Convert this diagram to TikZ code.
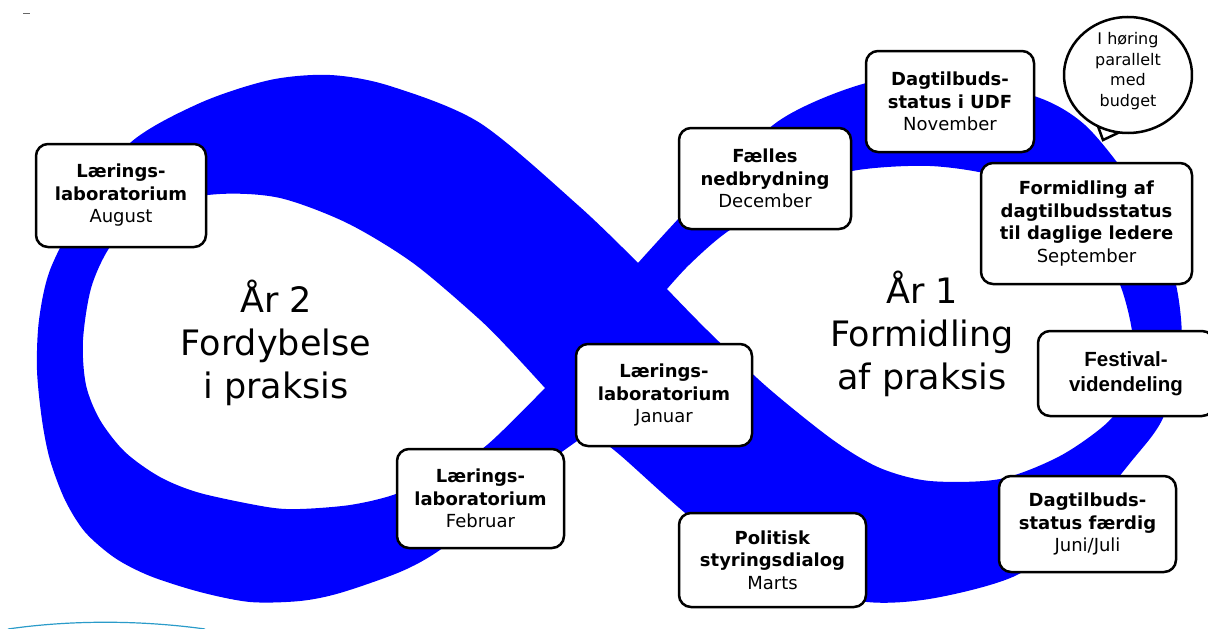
\documentclass[tikz,border=0pt]{standalone}
\usepackage{fontspec}
\setmainfont{DejaVu Sans}
\newfontfamily\arialfont{Liberation Sans}
\usepackage{xcolor}

\tikzset{
  band/.style={fill=blue, even odd rule},
  stage/.style={draw, line width=2.5pt, rounded corners=12pt, fill=white,
    align=center, inner sep=0pt, font=\fontsize{18}{22.5}\selectfont},
  bigtext/.style={align=center, font=\fontsize{35}{43}\selectfont},
  bubble/.style={draw, line width=2.5pt, fill=white},
  bubtext/.style={align=center, inner sep=0pt, font=\fontsize{16}{20.5}\selectfont}
}

\begin{document}
\begin{tikzpicture}[x=1pt, y=-1pt]
  \useasboundingbox (0,0) rectangle (1208,629);

  % The infinity band: outer outline with two holes
  \fill[band]
    plot[smooth] coordinates {(638,263) (700,196) (780,120) (870,82) (950,78)
      (1037,97) (1085,125) (1130,180) (1162,235) (1178,295) (1181,350)
      (1163,418) (1130,463) (1075,528) (1017,575) (935,598) (867,602)
      (790,583) (700,525) (620,455) (590,432)}
    -- plot[smooth] coordinates {(590,432) (540,468) (480,518) (437,552)
      (400,572) (340,593) (300,601) (250,602) (200,592) (150,576) (115,558)
      (85,532) (65,500) (50,460) (42,420) (37,370) (39,320) (50,270)
      (80,212) (130,143) (200,103) (270,80) (330,75) (390,86) (480,123)
      (580,207) (638,263)}
    -- cycle
    % right hole
    plot[smooth] coordinates {(667,289) (690,264) (727,232) (790,193)
      (852,171) (930,166) (1000,177) (1060,205) (1100,245) (1122,290)
      (1133,340) (1128,390) (1108,422) (1060,456) (1000,479) (930,481)
      (880,468) (833,440) (767,387) (707,330) (667,289)}
    -- cycle
    % left hole
    plot[smooth] coordinates {(545,388) (510,350) (478,318) (413,263)
      (347,223) (280,198) (220,194) (160,205) (115,240) (92,285) (83,340)
      (86,385) (100,420) (125,452) (160,477) (200,493) (267,507) (300,509)
      (350,505) (393,495) (440,475) (487,445) (545,388)}
    -- cycle;

  % Leftovers from the slide
  \draw[black!60, line width=1pt] (23,13) -- (30,13);
  \draw[cyan!60!teal, line width=1.2pt] (8,629) .. controls (70,620) and (140,620) .. (205,629);

  % Year texts
  \node[bigtext] (aar2) at (276,343) {År 2\\Fordybelse\\i praksis};
  \node[bigtext] (aar1) at (922,334) {År 1\\Formidling\\af praksis};

  % Stages of the year wheel
  \node[stage, minimum width=170pt, minimum height=103pt] (aug) at (121,195.5)
    {\textbf{Lærings-}\\\textbf{laboratorium}\\August};
  \node[stage, minimum width=172pt, minimum height=101pt] (dec) at (765,178.5)
    {\textbf{Fælles}\\\textbf{nedbrydning}\\December};
  \node[stage, minimum width=168pt, minimum height=101pt] (nov) at (950,101.5)
    {\textbf{Dagtilbuds-}\\\textbf{status i UDF}\\November};
  \node[stage, minimum width=211pt, minimum height=121pt] (sep) at (1086.5,223.5)
    {\textbf{Formidling af}\\\textbf{dagtilbudsstatus}\\\textbf{til daglige ledere}\\September};
  \node[stage, minimum width=176pt, minimum height=85pt,
    font=\arialfont\fontsize{20.5}{25}\selectfont\bfseries] (fest) at (1126,373.5)
    {Festival-\\videndeling};
  \node[stage, minimum width=177pt, minimum height=96pt] (jun) at (1087.5,524)
    {\textbf{Dagtilbuds-}\\\textbf{status færdig}\\Juni/Juli};
  \node[stage, minimum width=187pt, minimum height=94pt] (mar) at (772.5,560)
    {\textbf{Politisk}\\\textbf{styringsdialog}\\Marts};
  \node[stage, minimum width=176pt, minimum height=102pt] (jan) at (664,395)
    {\textbf{Lærings-}\\\textbf{laboratorium}\\Januar};
  \node[stage, minimum width=167pt, minimum height=99pt] (feb) at (480.5,498.5)
    {\textbf{Lærings-}\\\textbf{laboratorium}\\Februar};

  % Speech bubble
  \coordinate (bubc) at (1128,75);
  \draw[bubble] (bubc) ++(98:64 and 58)
    arc[start angle=98, end angle=478, x radius=64, y radius=58]
    -- (1103,140) -- cycle;
  \node[bubtext] (hoering) at (1128,71) {I høring\\parallelt\\med\\budget};
\end{tikzpicture}
\end{document}
